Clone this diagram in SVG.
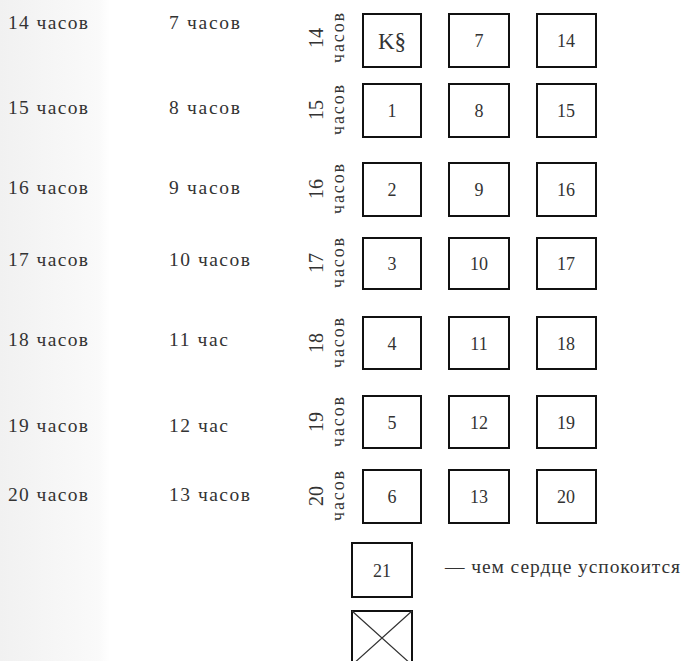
<svg xmlns="http://www.w3.org/2000/svg" width="683" height="661" viewBox="0 0 683 661">
<defs>
<linearGradient id="bg" x1="0" y1="0" x2="1" y2="0">
<stop offset="0" stop-color="#f1f1f1"/>
<stop offset="0.9" stop-color="#fafafa"/>
<stop offset="1" stop-color="#ffffff"/>
</linearGradient>
<style>
text{font-family:"Liberation Serif","DejaVu Serif",serif;fill:#333}
.l{font-size:19.5px}
.n{font-size:18px;text-anchor:middle}
.v{font-size:20px;text-anchor:middle}
.w{font-size:18px;text-anchor:middle}
.box{fill:none;stroke:#111;stroke-width:2}
</style>
</defs>
<rect width="683" height="661" fill="#fff"/>
<rect x="0" y="0" width="110" height="661" fill="url(#bg)"/>
<g id="left-labels">
<text class="l" x="8" y="29" textLength="80">14 часов</text>
<text class="l" x="8" y="114" textLength="80">15 часов</text>
<text class="l" x="8" y="194" textLength="80">16 часов</text>
<text class="l" x="8" y="266" textLength="80">17 часов</text>
<text class="l" x="8" y="346" textLength="80">18 часов</text>
<text class="l" x="8" y="432" textLength="80">19 часов</text>
<text class="l" x="8" y="501" textLength="80">20 часов</text>
<text class="l" x="169" y="29" textLength="71">7 часов</text>
<text class="l" x="169" y="114" textLength="71">8 часов</text>
<text class="l" x="169" y="194" textLength="71">9 часов</text>
<text class="l" x="169" y="266" textLength="81">10 часов</text>
<text class="l" x="169" y="346" textLength="59">11 час</text>
<text class="l" x="169" y="432" textLength="59">12 час</text>
<text class="l" x="169" y="501" textLength="81">13 часов</text>
</g>
<g id="row-labels">
<g transform="translate(0,38)"><text class="v" transform="translate(323,0) rotate(-90)">14</text><text class="w" transform="translate(344,0) rotate(-90)" textLength="50">часов</text></g>
<g transform="translate(0,110)"><text class="v" transform="translate(323,0) rotate(-90)">15</text><text class="w" transform="translate(344,0) rotate(-90)" textLength="50">часов</text></g>
<g transform="translate(0,189)"><text class="v" transform="translate(323,0) rotate(-90)">16</text><text class="w" transform="translate(344,0) rotate(-90)" textLength="50">часов</text></g>
<g transform="translate(0,263)"><text class="v" transform="translate(323,0) rotate(-90)">17</text><text class="w" transform="translate(344,0) rotate(-90)" textLength="50">часов</text></g>
<g transform="translate(0,343)"><text class="v" transform="translate(323,0) rotate(-90)">18</text><text class="w" transform="translate(344,0) rotate(-90)" textLength="50">часов</text></g>
<g transform="translate(0,422)"><text class="v" transform="translate(323,0) rotate(-90)">19</text><text class="w" transform="translate(344,0) rotate(-90)" textLength="50">часов</text></g>
<g transform="translate(0,496)"><text class="v" transform="translate(323,0) rotate(-90)">20</text><text class="w" transform="translate(344,0) rotate(-90)" textLength="50">часов</text></g>
</g>
<g id="box-KS"><rect class="box" x="363" y="14" width="58" height="53"/><text x="392" y="49" style="font-size:23px;text-anchor:middle">K§</text></g>
<g id="box-1"><rect class="box" x="363" y="84" width="58" height="53"/><text class="n" x="392" y="117">1</text></g>
<g id="box-2"><rect class="box" x="363" y="163" width="58" height="53"/><text class="n" x="392" y="196">2</text></g>
<g id="box-3"><rect class="box" x="363" y="238" width="58" height="51"/><text class="n" x="392" y="270">3</text></g>
<g id="box-4"><rect class="box" x="363" y="317" width="58" height="52"/><text class="n" x="392" y="350">4</text></g>
<g id="box-5"><rect class="box" x="363" y="396" width="58" height="52"/><text class="n" x="392" y="429">5</text></g>
<g id="box-6"><rect class="box" x="363" y="470" width="58" height="53"/><text class="n" x="392" y="503">6</text></g>
<g id="box-7"><rect class="box" x="449" y="14" width="60" height="53"/><text class="n" x="479" y="47">7</text></g>
<g id="box-8"><rect class="box" x="449" y="84" width="60" height="53"/><text class="n" x="479" y="117">8</text></g>
<g id="box-9"><rect class="box" x="449" y="163" width="60" height="53"/><text class="n" x="479" y="196">9</text></g>
<g id="box-10"><rect class="box" x="449" y="238" width="60" height="51"/><text class="n" x="479" y="270">10</text></g>
<g id="box-11"><rect class="box" x="449" y="317" width="60" height="52"/><text class="n" x="479" y="350">11</text></g>
<g id="box-12"><rect class="box" x="449" y="396" width="60" height="52"/><text class="n" x="479" y="429">12</text></g>
<g id="box-13"><rect class="box" x="449" y="470" width="60" height="53"/><text class="n" x="479" y="503">13</text></g>
<g id="box-14"><rect class="box" x="537" y="14" width="59" height="53"/><text class="n" x="566" y="47">14</text></g>
<g id="box-15"><rect class="box" x="537" y="84" width="59" height="53"/><text class="n" x="566" y="117">15</text></g>
<g id="box-16"><rect class="box" x="537" y="163" width="59" height="53"/><text class="n" x="566" y="196">16</text></g>
<g id="box-17"><rect class="box" x="537" y="238" width="59" height="51"/><text class="n" x="566" y="270">17</text></g>
<g id="box-18"><rect class="box" x="537" y="317" width="59" height="52"/><text class="n" x="566" y="350">18</text></g>
<g id="box-19"><rect class="box" x="537" y="396" width="59" height="52"/><text class="n" x="566" y="429">19</text></g>
<g id="box-20"><rect class="box" x="537" y="470" width="59" height="53"/><text class="n" x="566" y="503">20</text></g>
<g id="box-21"><rect class="box" x="352" y="543" width="60" height="54"/><text class="n" x="382" y="577">21</text></g>
<g id="legend-21"><text class="l" x="445" y="573" textLength="235">— чем сердце успокоится</text></g>
<g id="box-x"><rect class="box" x="352" y="611" width="60" height="54"/><path d="M352 611 L412 665 M412 611 L352 665" stroke="#333" stroke-width="1.2" fill="none"/></g>
<g id="connectors"></g>
</svg>
